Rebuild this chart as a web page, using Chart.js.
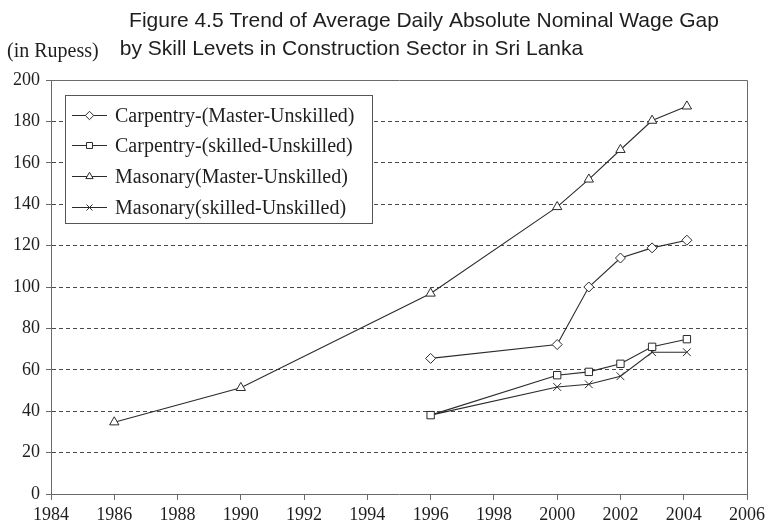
<!DOCTYPE html>
<html>
<head>
<meta charset="utf-8">
<script src="https://cdn.jsdelivr.net/npm/chart.js@4/dist/chart.umd.min.js"></script>
<style>
html,body{margin:0;padding:0;background:#fff;}
canvas{display:block;}
</style>
</head>
<body>
<canvas id="c" width="769" height="526"></canvas>
<script>
// ---- text ----
const titleLine1 = "Figure 4.5 Trend of Average Daily Absolute Nominal Wage Gap";
const titleLine2 = "by Skill Levets in Construction Sector in Sri Lanka";
const unitLabel = "(in Rupess)";

// ---- ticks ----
const xTicks = [1984, 1986, 1988, 1990, 1992, 1994, 1996, 1998, 2000, 2002, 2004, 2006];
const yTicks = [0, 20, 40, 60, 80, 100, 120, 140, 160, 180, 200];

// ---- series ----
const seriesNames = [
  "Carpentry-(Master-Unskilled)",
  "Carpentry-(skilled-Unskilled)",
  "Masonary(Master-Unskilled)",
  "Masonary(skilled-Unskilled)"
];
const carpMasterYears   = [1996, 2000, 2001, 2002, 2003, 2004.1];
const carpMasterValues  = [65.5, 72.2, 100, 114, 118.9, 122.6];
const carpSkilledYears  = [1996, 2000, 2001, 2002, 2003, 2004.1];
const carpSkilledValues = [38.1, 57.4, 59, 62.9, 71.1, 74.8];
const masMasterYears    = [1986, 1990, 1996, 2000, 2001, 2002, 2003, 2004.1];
const masMasterValues   = [34.7, 51.3, 96.9, 138.7, 152, 166.3, 180.4, 187.3];
const masSkilledYears   = [1996, 2000, 2001, 2002, 2003, 2004.1];
const masSkilledValues  = [38.1, 51.7, 53, 56.9, 68.5, 68.5];

const pts = (xs, ys) => xs.map((x, i) => ({x: x, y: ys[i]}));

const LINE = '#2b2b2b';
const AXIS = '#6a6a6a';
const TEXT = '#1e1e1e';

function ds(label, data, style, r) {
  return {
    label: label,
    data: data,
    showLine: true,
    borderColor: LINE,
    borderWidth: 1.1,
    pointStyle: style,
    pointRadius: r,
    pointBackgroundColor: '#fff',
    pointBorderColor: LINE,
    pointBorderWidth: 1,
    tension: 0
  };
}

const datasets = [
  ds(seriesNames[0], pts(carpMasterYears, carpMasterValues), 'rectRot', 5),
  ds(seriesNames[1], pts(carpSkilledYears, carpSkilledValues), 'rect', 5.2),
  ds(seriesNames[2], pts(masMasterYears, masMasterValues), 'triangle', 5.4),
  ds(seriesNames[3], pts(masSkilledYears, masSkilledValues), 'crossRot', 5.5)
];

const framePlugin = {
  id: 'frame',
  beforeDatasetsDraw(chart) {
    const {ctx, chartArea: a} = chart;
    ctx.save();
    ctx.strokeStyle = AXIS;
    ctx.lineWidth = 1;
    ctx.beginPath();
    ctx.moveTo(Math.round(a.left) + 0.5, Math.round(a.top) + 0.5);
    ctx.lineTo(Math.round(a.right) + 0.5, Math.round(a.top) + 0.5);
    ctx.lineTo(Math.round(a.right) + 0.5, Math.round(a.bottom) + 0.5);
    ctx.stroke();
    ctx.restore();

    // legend box
    const bx = 65.5, by = 95.5, bw = 307, bh = 128;
    ctx.save();
    ctx.fillStyle = '#fff';
    ctx.fillRect(bx, by, bw, bh);
    ctx.strokeStyle = '#555';
    ctx.lineWidth = 1;
    ctx.strokeRect(bx, by, bw, bh);
    ctx.font = '20px "Liberation Serif", "Times New Roman", serif';
    ctx.textBaseline = 'middle';
    ctx.textAlign = 'left';
    chart.data.datasets.forEach((d, i) => {
      const y = Math.round(114.5 + i * 30.8) + 0.5;
      ctx.strokeStyle = LINE;
      ctx.lineWidth = 1;
      ctx.beginPath();
      ctx.moveTo(72, y);
      ctx.lineTo(107, y);
      ctx.stroke();
      ctx.fillStyle = '#fff';
      ctx.strokeStyle = LINE;
      Chart.helpers.drawPoint(ctx, {pointStyle: d.pointStyle, radius: 4.2, rotation: 0, borderWidth: 1}, 89.5, y);
      ctx.fillStyle = TEXT;
      ctx.fillText(d.label, 115, y + 1);
    });
    ctx.restore();
  },
  afterDraw(chart) {
    const ctx = chart.ctx;
    ctx.save();
    ctx.fillStyle = TEXT;
    ctx.textBaseline = 'alphabetic';
    ctx.font = '21px "Liberation Sans", Arial, sans-serif';
    ctx.textAlign = 'center';
    ctx.fillText(titleLine1, 424, 27);
    ctx.fillText(titleLine2, 351.5, 55);
    ctx.font = '20px "Liberation Serif", "Times New Roman", serif';
    ctx.textAlign = 'left';
    ctx.fillText(unitLabel, 7, 57);
    ctx.restore();
  }
};

new Chart(document.getElementById('c'), {
  type: 'scatter',
  data: {datasets: datasets},
  options: {
    responsive: false,
    animation: false,
    devicePixelRatio: 1,
    layout: {padding: {top: 80, right: 22, left: 0, bottom: 0}},
    plugins: {legend: {display: false}, tooltip: {enabled: false}},
    scales: {
      x: {
        type: 'linear',
        min: xTicks[0],
        max: xTicks[xTicks.length - 1],
        afterBuildTicks: s => { s.ticks = xTicks.map(v => ({value: v})); },
        afterFit: s => { s.height = 32; },
        ticks: {
          callback: v => String(v),
          color: TEXT,
          font: {family: '"Liberation Serif", "Times New Roman", serif', size: 18},
          padding: 4,
          maxRotation: 0,
          autoSkip: false
        },
        grid: {drawOnChartArea: false, drawTicks: true, tickLength: 6, tickColor: AXIS},
        border: {display: true, color: AXIS, width: 1}
      },
      y: {
        type: 'linear',
        min: yTicks[0],
        max: yTicks[yTicks.length - 1],
        afterBuildTicks: s => { s.ticks = yTicks.map(v => ({value: v})); },
        afterFit: s => { s.width = 51; },
        ticks: {
          callback: v => String(v),
          color: TEXT,
          font: {family: '"Liberation Serif", "Times New Roman", serif', size: 18},
          padding: 6
        },
        grid: {
          color: c => (c.tick && (c.tick.value === 0 || c.tick.value === 200)) ? 'rgba(0,0,0,0)' : '#4a4a4a',
          lineWidth: 1,
          drawTicks: true,
          tickLength: 5,
          tickColor: AXIS
        },
        border: {display: true, color: AXIS, width: 1, dash: [4, 3]}
      }
    }
  },
  plugins: [framePlugin]
});
</script>
</body>
</html>
